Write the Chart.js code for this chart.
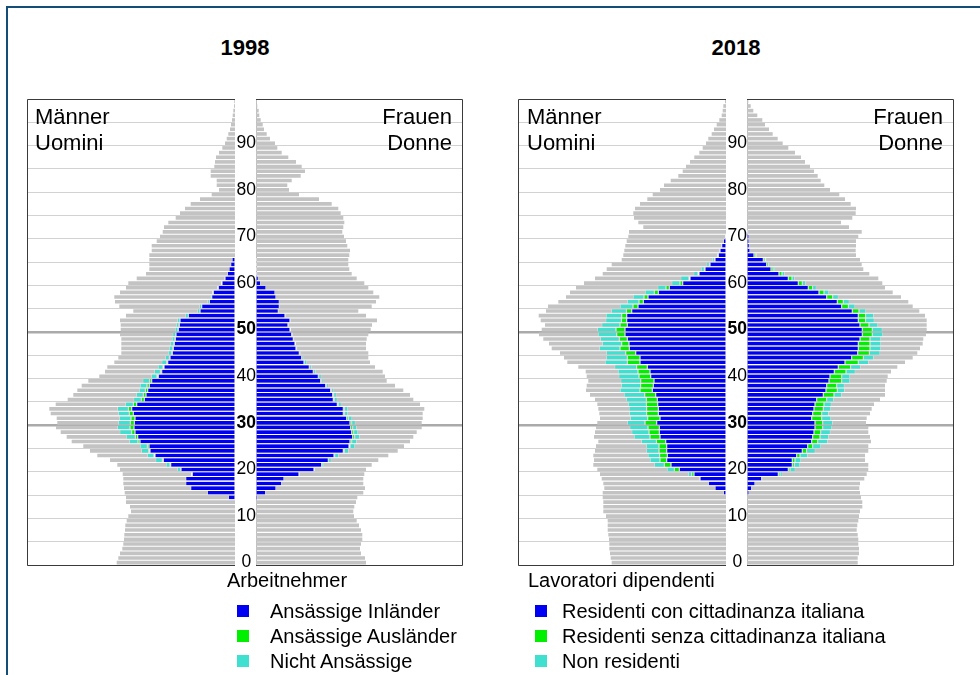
<!DOCTYPE html>
<html>
<head>
<meta charset="utf-8">
<script src="https://cdn.jsdelivr.net/npm/chart.js@4.4.1/dist/chart.umd.min.js"></script>
<style>
html,body{margin:0;padding:0;background:#fff;}
body{width:980px;height:675px;position:relative;overflow:hidden;font-family:"Liberation Sans",Arial,Helvetica,sans-serif;color:#000;}
.frame{position:absolute;left:6px;top:6px;width:1000px;height:700px;border-left:2px solid #134e78;border-top:2px solid #134e78;}
canvas{position:absolute;}
.title{position:absolute;top:35px;width:200px;text-align:center;font-weight:bold;font-size:22px;line-height:26px;}
.corner{position:absolute;top:104px;font-size:22px;line-height:26px;white-space:nowrap;}
.legtitle{position:absolute;font-size:20px;line-height:25px;white-space:nowrap;}
.legrow{position:absolute;font-size:20px;line-height:25px;white-space:nowrap;}
.sw{position:absolute;width:12px;height:12px;}
</style>
</head>
<body>
<div class="frame"></div>

<div class="title" style="left:145px;">1998</div>
<div class="title" style="left:636px;">2018</div>

<canvas id="m1998" width="218" height="506" style="left:17px;top:79px;"></canvas>
<canvas id="f1998" width="237" height="506" style="left:235px;top:79px;"></canvas>
<canvas id="m2018" width="218" height="506" style="left:508px;top:79px;"></canvas>
<canvas id="f2018" width="237" height="506" style="left:726px;top:79px;"></canvas>

<div class="corner" style="left:35px;">Männer<br>Uomini</div>
<div class="corner" style="left:252px;width:200px;text-align:right;">Frauen<br>Donne</div>
<div class="corner" style="left:527px;">Männer<br>Uomini</div>
<div class="corner" style="left:743px;width:200px;text-align:right;">Frauen<br>Donne</div>

<div id="legends"></div>

<script>
// ---------------- DATA ----------------
const ages = [0,1,2,3,4,5,6,7,8,9,10,11,12,13,14,15,16,17,18,19,
  20,21,22,23,24,25,26,27,28,29,30,31,32,33,34,35,36,37,38,39,
  40,41,42,43,44,45,46,47,48,49,50,51,52,53,54,55,56,57,58,59,
  60,61,62,63,64,65,66,67,68,69,70,71,72,73,74,75,76,77,78,79,
  80,81,82,83,84,85,86,87,88,89,90,91,92,93,94,95,96,97,98,99];
const tickAges = [0,10,20,30,40,50,60,70,80,90];
const boldAges = [30,50];
const EMP_FIRST_AGE = 14;   // employee arrays below start at this age (ages 14..71)

// Total population by age (ages 0..99)
const male1998Total = [2366,2334,2300,2254,2234,2220,2214,2200,2194,2166,
 2134,2080,2100,2180,2180,2206,2220,2234,2234,2246,
 2300,2354,2500,2754,2900,3034,3266,3366,3486,3580,
 3554,3566,3686,3714,3586,3346,3234,3154,3066,2934,
 2714,2600,2554,2414,2334,2274,2274,2274,2274,2300,
 2286,2286,2300,2180,2034,2314,2400,2414,2300,2180,
 2134,1966,1780,1714,1714,1714,1714,1666,1666,1566,
 1500,1446,1420,1334,1186,1100,1000,886,700,466,
 320,366,366,486,486,414,400,380,320,254,
 200,166,134,100,80,60,46,34,20,14];
const female1998Total = [2200,2180,2100,2080,2100,2126,2126,2100,2060,2014,
 1960,1946,1966,2000,2026,2146,2180,2146,2146,2166,
 2200,2314,2446,2646,2834,2960,3080,3146,3214,3314,
 3314,3334,3334,3366,3280,3146,3080,2946,2780,2614,
 2580,2534,2380,2280,2246,2246,2200,2200,2214,2246,
 2294,2320,2420,2200,2046,2314,2400,2466,2346,2246,
 2166,2014,1914,1866,1846,1846,1866,1880,1826,1800,
 1760,1726,1746,1766,1746,1694,1646,1514,1260,860,
 660,626,714,894,980,914,800,646,514,426,
 380,280,214,160,134,94,66,54,26,14];
const male2018Total = [2286,2306,2320,2334,2334,2340,2354,2366,2366,2366,
 2400,2454,2454,2454,2466,2466,2434,2454,2486,2520,
 2574,2654,2640,2654,2620,2600,2554,2640,2620,2600,
 2574,2520,2534,2554,2574,2620,2720,2800,2786,2754,
 2786,2806,2954,3174,3240,3320,3486,3540,3654,3740,
 3686,3620,3706,3746,3600,3560,3354,3200,3120,3000,
 2840,2620,2466,2386,2286,2086,2054,2034,2014,1986,
 1954,1940,1654,1754,1840,1854,1820,1720,1574,1466,
 1320,1240,1106,954,866,800,720,634,534,466,
 400,354,286,240,186,134,86,66,54,20];
const female2018Total = [2214,2214,2240,2240,2226,2226,2214,2194,2206,2226,
 2240,2260,2306,2306,2280,2260,2246,2260,2346,2394,
 2426,2426,2360,2360,2426,2426,2480,2460,2426,2426,
 2380,2394,2460,2494,2540,2660,2760,2760,2760,2794,
 2814,2880,3006,3160,3314,3406,3460,3514,3526,3580,
 3594,3594,3594,3560,3446,3314,3226,3080,2914,2760,
 2706,2626,2446,2326,2294,2260,2180,2174,2180,2180,
 2226,2294,2040,1880,2106,2174,2180,2074,1960,1846,
 1660,1546,1474,1414,1340,1260,1160,1080,960,826,
 714,614,514,440,360,306,206,126,74,26];

// Employees by age (ages 14..71)
const male1998Inl = [134,554,886,986,986,854,1080,1286,1434,1600,
 1700,1720,1900,1946,2000,2020,2014,2000,2034,2066,
 1966,1814,1780,1746,1714,1666,1534,1466,1420,1346,
 1300,1254,1234,1214,1194,1180,1134,1114,1100,934,
 700,666,514,466,434,334,260,200,154,120,
 86,60,0,0,0,0,0,0];
const male1998Ausl = [0,0,0,0,0,6,6,14,20,20,
 26,34,40,46,66,80,80,80,80,66,
 66,60,54,46,46,40,26,26,20,20,
 14,10,10,10,6,6,6,6,0,0,
 0,0,0,0,0,0,0,0,0,0,
 0,0,0,0,0,0,0,0];
const male1998NichtAns = [0,0,0,0,6,20,66,80,134,134,
 146,146,174,186,240,254,240,234,220,220,
 160,154,140,126,140,140,114,120,100,100,
 80,74,74,66,60,60,60,54,54,60,
 54,46,40,34,26,26,20,14,6,0,
 0,0,0,0,0,0,0,0];

const female1998Inl = [34,194,400,514,560,860,1160,1314,1446,1560,
 1746,1860,1880,1934,1914,1894,1880,1814,1746,1746,
 1626,1546,1534,1494,1394,1294,1246,1146,1066,960,
 914,866,800,780,746,714,680,640,680,580,
 446,466,466,400,380,200,94,46,26,14,
 14,14,0,0,0,0,0,0];
const female1998Ausl = [0,0,0,0,0,0,0,6,6,14,
 20,20,34,40,40,40,34,34,26,26,
 20,20,20,14,14,10,10,6,6,6,
 0,0,0,0,0,0,0,0,0,0,
 0,0,0,0,0,0,0,0,0,0,
 0,0,0,0,0,0,0,0];
const female1998NichtAns = [0,0,0,0,0,14,26,40,54,80,
 86,100,100,100,86,80,74,74,66,66,
 60,60,54,40,40,40,50,40,40,54,
 34,26,26,20,20,20,20,14,14,14,
 10,10,0,0,0,0,0,0,0,0,
 0,0,0,0,0,0,0,0];

const male2018Inl = [0,54,220,354,520,640,934,1100,1186,1174,
 1186,1186,1206,1320,1334,1334,1386,1320,1354,1354,
 1366,1374,1406,1474,1454,1440,1506,1520,1574,1720,
 1720,1806,1934,1940,1974,2020,2020,1974,1986,1986,
 1886,1760,1654,1560,1354,1134,866,720,540,420,
 320,220,154,120,86,54,20,0];
const male2018Ausl = [0,0,0,0,6,46,100,134,134,154,
 154,154,186,200,206,226,234,246,234,234,
 226,220,220,246,254,266,234,240,214,254,
 254,200,186,146,160,166,180,146,106,100,
 106,100,86,80,80,66,54,20,20,14,
 14,14,6,6,0,0,0,0];
const male2018NichtAns = [0,0,0,0,20,66,146,200,200,234,
 254,254,300,320,346,366,354,346,346,354,
 366,400,414,400,386,400,406,400,440,446,
 420,386,414,386,380,374,374,366,314,314,
 300,260,234,220,186,166,166,166,86,66,
 54,40,26,20,14,6,0,0];

const female2018Inl = [0,40,94,160,294,626,826,906,906,994,
 1106,1214,1294,1314,1340,1360,1360,1294,1314,1340,
 1360,1394,1526,1580,1594,1640,1660,1746,1826,1960,
 2094,2214,2226,2226,2260,2306,2306,2260,2226,2226,
 2106,1894,1806,1594,1440,1226,1026,826,640,480,
 394,326,140,60,46,40,40,26];
const female2018Ausl = [0,0,0,0,0,34,34,40,54,66,
 86,100,120,146,134,154,154,200,180,186,
 180,200,214,226,200,254,234,234,246,266,
 234,234,234,234,200,200,200,180,146,146,
 134,134,120,120,100,86,80,74,60,40,
 34,34,34,0,0,0,0,0];
const female2018NichtAns = [0,0,0,0,14,46,106,114,120,154,
 174,166,200,174,194,186,200,186,140,154,
 146,140,154,146,154,166,166,186,200,206,
 206,214,220,220,220,214,200,180,174,160,
 140,134,120,114,100,74,66,54,54,40,
 34,26,20,0,0,0,0,0];

const legend1998Title = 'Arbeitnehmer';
const legend1998Items = ['Ansässige Inländer','Ansässige Ausländer','Nicht Ansässige'];
const legend2018Title = 'Lavoratori dipendenti';
const legend2018Items = ['Residenti con cittadinanza italiana','Residenti senza cittadinanza italiana','Non residenti'];

// ---------------- STYLE ----------------
const FONT = '"Liberation Sans", Arial, Helvetica, sans-serif';
const C_BLUE = '#0000f2';
const C_GREEN = '#00f000';
const C_CYAN = '#40e0d0';
const C_GREY = '#c3c3c3';
const seriesColors = [C_BLUE, C_GREEN, C_CYAN];
const MALE_MAX = 4160;
const FEMALE_MAX = 4120;

function expandEmp(arr) {
  const out = ages.map(() => 0);
  arr.forEach((v, i) => { out[EMP_FIRST_AGE + i] = v; });
  return out;
}

const framePlugin = {
  id: 'panelFrame',
  afterDraw(chart, args, opts) {
    const c = chart.ctx, a = chart.chartArea;
    c.save();
    c.strokeStyle = '#3a3a3a';
    c.lineWidth = 1;
    c.beginPath();
    const top = a.top + 0.5, bot = a.bottom + 0.5;
    if (opts.side === 'm') {
      const l = a.left + 0.5;
      c.moveTo(a.right, top); c.lineTo(l, top); c.lineTo(l, bot); c.lineTo(a.right, bot);
    } else {
      const r = a.right + 0.5;
      c.moveTo(a.left, top); c.lineTo(r, top); c.lineTo(r, bot); c.lineTo(a.left, bot);
    }
    c.stroke();
    c.restore();
  }
};

function gridColor(ctx) {
  const i = ctx.index;
  if (i === undefined || i === null || ctx.type !== 'tick') return 'rgba(0,0,0,0)';
  const age = ages[i];
  if (boldAges.includes(age)) return '#aaaaaa';
  return age % 5 === 0 ? '#d2d2d2' : 'rgba(0,0,0,0)';
}
function gridWidth(ctx) {
  const i = ctx.index;
  if (i === undefined || i === null || ctx.type !== 'tick') return 1;
  return boldAges.includes(ages[i]) ? 2.5 : 1;
}

function makePanel(id, side, total, inl, ausl, nicht) {
  const male = side === 'm';
  const seg = {
    stack: 'emp',
    borderSkipped: false,
    borderWidth: {top: 0, bottom: 0, left: 0.6, right: 0.6},
    borderColor: 'rgba(255,255,255,0.85)'
  };
  const yScale = {
    type: 'category',
    reverse: true,
    offset: true,
    position: male ? 'right' : 'left',
    grid: {offset: true, drawTicks: false, color: gridColor, lineWidth: gridWidth},
    border: {display: true, color: '#bdbdbd', width: 1},
    ticks: male ? {display: false} : {
      display: true,
      autoSkip: false,
      padding: 0,
      crossAlign: 'center',
      color: '#000',
      font: (ctx) => ({family: FONT, size: 17.5, weight: boldAges.includes(ages[ctx.index]) ? 'bold' : 'normal'}),
      callback: (v, i) => tickAges.includes(ages[i]) ? String(ages[i]) : ''
    },
    afterFit: (s) => { s.width = male ? 0 : 21; }
  };
  return new Chart(document.getElementById(id), {
    type: 'bar',
    data: {
      labels: ages.map(String),
      datasets: [
        Object.assign({label: 'inl', data: expandEmp(inl), backgroundColor: C_BLUE}, seg),
        Object.assign({label: 'ausl', data: expandEmp(ausl), backgroundColor: C_GREEN}, seg),
        Object.assign({label: 'nicht', data: expandEmp(nicht), backgroundColor: C_CYAN}, seg),
        {label: 'total', data: total, backgroundColor: C_GREY, stack: 'tot', borderWidth: 0}
      ]
    },
    options: {
      indexAxis: 'y',
      responsive: false,
      animation: false,
      devicePixelRatio: 1,
      layout: {padding: male ? {left: 10, right: 0, top: 20, bottom: 20} : {left: 0, right: 10, top: 20, bottom: 20}},
      datasets: {bar: {grouped: false, categoryPercentage: 1, barPercentage: 0.78}},
      plugins: {legend: {display: false}, tooltip: {enabled: false}, panelFrame: {side: side}},
      scales: {
        x: {type: 'linear', stacked: true, reverse: male, min: 0, max: male ? MALE_MAX : FEMALE_MAX, display: false},
        y: yScale
      }
    },
    plugins: [framePlugin]
  });
}

makePanel('m1998', 'm', male1998Total, male1998Inl, male1998Ausl, male1998NichtAns);
makePanel('f1998', 'f', female1998Total, female1998Inl, female1998Ausl, female1998NichtAns);
makePanel('m2018', 'm', male2018Total, male2018Inl, male2018Ausl, male2018NichtAns);
makePanel('f2018', 'f', female2018Total, female2018Inl, female2018Ausl, female2018NichtAns);

// ---------------- LEGENDS ----------------
function buildLegend(title, items, titleLeft, swLeft, textLeft) {
  const host = document.getElementById('legends');
  const t = document.createElement('div');
  t.className = 'legtitle';
  t.style.left = titleLeft + 'px';
  t.style.top = '568px';
  t.textContent = title;
  host.appendChild(t);
  items.forEach((txt, i) => {
    const cy = 611 + i * 25;
    const sw = document.createElement('div');
    sw.className = 'sw';
    sw.style.left = swLeft + 'px';
    sw.style.top = (cy - 6) + 'px';
    sw.style.background = seriesColors[i];
    host.appendChild(sw);
    const r = document.createElement('div');
    r.className = 'legrow';
    r.style.left = textLeft + 'px';
    r.style.top = (cy - 12.5) + 'px';
    r.textContent = txt;
    host.appendChild(r);
  });
}
buildLegend(legend1998Title, legend1998Items, 227, 237, 270);
buildLegend(legend2018Title, legend2018Items, 528, 535, 562);
</script>
</body>
</html>
